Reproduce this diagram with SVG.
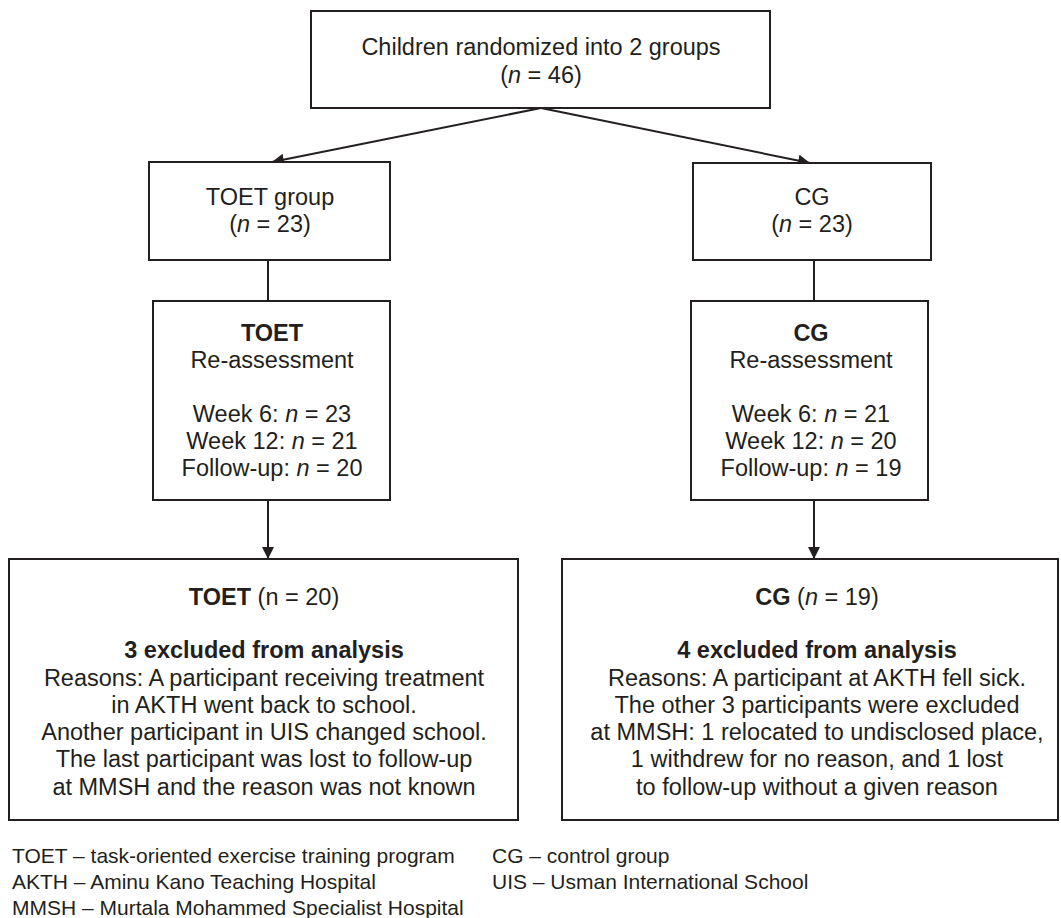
<svg xmlns="http://www.w3.org/2000/svg" width="1061" height="918" viewBox="0 0 1061 918">
<style>
.box{fill:#fff;stroke:#231f20;stroke-width:2}
.t{font-family:"Liberation Sans",Arial,sans-serif;font-size:23.5px;fill:#231f20;text-anchor:middle}
.lg{font-family:"Liberation Sans",Arial,sans-serif;font-size:21px;fill:#231f20}
.b{font-weight:bold}
.conn{stroke:#231f20;stroke-width:2;fill:none}
</style>
<defs>
<marker id="arr" markerWidth="12" markerHeight="12" refX="12" refY="6" orient="auto" markerUnits="userSpaceOnUse">
<path d="M0,0 L12,6 L0,12 Z" fill="#231f20"/>
</marker>
</defs>
<rect width="1061" height="918" fill="#fff"/>
<g id="connectors">
<line class="conn" x1="541" y1="108" x2="272" y2="162" marker-end="url(#arr)"/>
<line class="conn" x1="541" y1="108" x2="810" y2="163" marker-end="url(#arr)"/>
<line class="conn" x1="268" y1="260" x2="268" y2="301"/>
<line class="conn" x1="814" y1="260" x2="814" y2="301"/>
<line class="conn" x1="268" y1="500" x2="268" y2="559" marker-end="url(#arr)"/>
<line class="conn" x1="814" y1="500" x2="814" y2="559" marker-end="url(#arr)"/>
</g>
<g id="top">
<rect class="box" x="311" y="11" width="459" height="97"/>
<text class="t" x="541" y="55">Children randomized into 2 groups</text>
<text class="t" x="541" y="83">(<tspan font-style="italic">n</tspan> = 46)</text>
</g>
<g id="toet-group">
<rect class="box" x="149" y="162" width="241" height="98"/>
<text class="t" x="270" y="205">TOET group</text>
<text class="t" x="270" y="232">(<tspan font-style="italic">n</tspan> = 23)</text>
</g>
<g id="cg-group">
<rect class="box" x="693" y="163" width="238" height="97"/>
<text class="t" x="812" y="205">CG</text>
<text class="t" x="812" y="232">(<tspan font-style="italic">n</tspan> = 23)</text>
</g>
<g id="toet-reassess">
<rect class="box" x="153" y="301" width="237" height="199"/>
<text class="t b" x="272" y="341">TOET</text>
<text class="t" x="272" y="368">Re-assessment</text>
<text class="t" x="272" y="422">Week 6: <tspan font-style="italic">n</tspan> = 23</text>
<text class="t" x="272" y="449">Week 12: <tspan font-style="italic">n</tspan> = 21</text>
<text class="t" x="272" y="476">Follow-up: <tspan font-style="italic">n</tspan> = 20</text>
</g>
<g id="cg-reassess">
<rect class="box" x="691" y="301" width="237" height="199"/>
<text class="t b" x="811" y="341">CG</text>
<text class="t" x="811" y="368">Re-assessment</text>
<text class="t" x="811" y="422">Week 6: <tspan font-style="italic">n</tspan> = 21</text>
<text class="t" x="811" y="449">Week 12: <tspan font-style="italic">n</tspan> = 20</text>
<text class="t" x="811" y="476">Follow-up: <tspan font-style="italic">n</tspan> = 19</text>
</g>
<g id="toet-final">
<rect class="box" x="9" y="559" width="509" height="261"/>
<text class="t" x="264" y="605"><tspan font-weight="bold">TOET</tspan> (n = 20)</text>
<text class="t b" x="264" y="658">3 excluded from analysis</text>
<text class="t" x="264" y="686">Reasons: A participant receiving treatment</text>
<text class="t" x="264" y="713">in AKTH went back to school.</text>
<text class="t" x="264" y="740">Another participant in UIS changed school.</text>
<text class="t" x="264" y="767">The last participant was lost to follow-up</text>
<text class="t" x="264" y="795">at MMSH and the reason was not known</text>
</g>
<g id="cg-final">
<rect class="box" x="562" y="559" width="496" height="261"/>
<text class="t" x="817" y="605"><tspan font-weight="bold">CG</tspan> (<tspan font-style="italic">n</tspan> = 19)</text>
<text class="t b" x="817" y="658">4 excluded from analysis</text>
<text class="t" x="817" y="686">Reasons: A participant at AKTH fell sick.</text>
<text class="t" x="817" y="713">The other 3 participants were excluded</text>
<text class="t" x="817" y="740">at MMSH: 1 relocated to undisclosed place,</text>
<text class="t" x="817" y="767">1 withdrew for no reason, and 1 lost</text>
<text class="t" x="817" y="795">to follow-up without a given reason</text>
</g>
<g id="legend">
<text class="lg" x="12" y="863">TOET – task-oriented exercise training program</text>
<text class="lg" x="12" y="889">AKTH – Aminu Kano Teaching Hospital</text>
<text class="lg" x="12" y="915">MMSH – Murtala Mohammed Specialist Hospital</text>
<text class="lg" x="492" y="863">CG – control group</text>
<text class="lg" x="492" y="889">UIS – Usman International School</text>
</g>
</svg>
